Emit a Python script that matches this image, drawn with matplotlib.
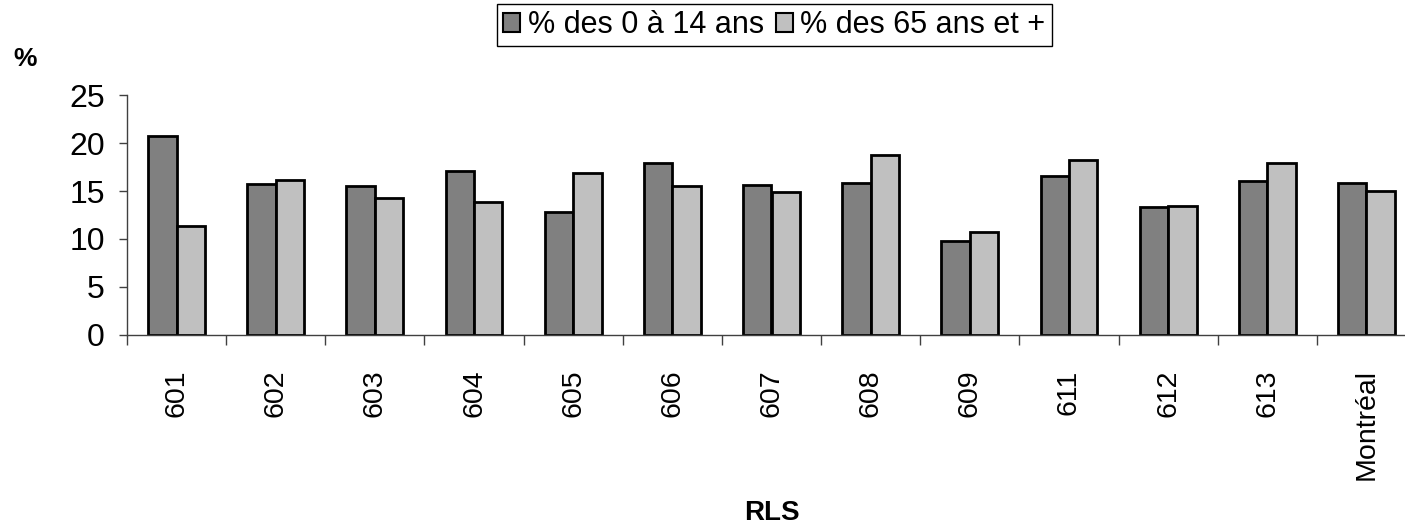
import matplotlib
matplotlib.use("Agg")
import matplotlib.pyplot as plt
import numpy as np

# Part de la population par groupe d'âge, par RLS
rls = ["601", "602", "603", "604", "605", "606", "607", "608", "609",
       "611", "612", "613", "Montréal"]
pct_0_14 = [20.8, 15.7, 15.5, 17.1, 12.8, 17.9, 15.6, 15.8, 9.8,
            16.6, 13.3, 16.0, 15.8]
pct_65_plus = [11.3, 16.2, 14.3, 13.9, 16.9, 15.5, 14.9, 18.8, 10.7,
               18.2, 13.4, 17.9, 15.0]
series_names = ["% des 0 à 14 ans", "% des 65 ans et +"]
yticks = [0, 5, 10, 15, 20, 25]

plt.rcParams["font.family"] = ["Liberation Sans", "DejaVu Sans"]

fig = plt.figure(figsize=(14.05, 5.27), dpi=100)
ax = fig.add_axes([127 / 1405, 192.3 / 527, 1289 / 1405, 239.4 / 527])

x = np.arange(len(rls))
w = 0.287
b1 = ax.bar(x - w / 2, pct_0_14, w, color="#808080", edgecolor="black",
            linewidth=2, label=series_names[0])
b2 = ax.bar(x + w / 2, pct_65_plus, w, color="#c0c0c0", edgecolor="black",
            linewidth=2, label=series_names[1])

ax.set_xlim(-0.5, len(rls) - 0.5)
ax.set_ylim(0, 25)

for s in ["top", "right"]:
    ax.spines[s].set_visible(False)
for s in ["left", "bottom"]:
    ax.spines[s].set_color("#404040")
    ax.spines[s].set_linewidth(1.0)

ax.set_yticks(yticks)
ax.tick_params(axis="y", direction="out", length=6, width=1, color="#404040",
               labelsize=23, pad=10)

# tick marks between groups, labels at the group centres
ax.set_xticks(x)
ax.set_xticklabels(rls, rotation=90)
ax.set_xticks(np.arange(len(rls)) - 0.5, minor=True)
ax.tick_params(axis="x", which="major", length=0, labelsize=20.5, pad=25)
ax.tick_params(axis="x", which="minor", direction="out", length=7, width=1,
               color="#404040")

fig.text(25 / 1405, 1 - 59 / 527, "%", fontsize=19, fontweight="bold",
         ha="center", va="center")
fig.text(772 / 1405, 1 - 513 / 527, "RLS", fontsize=20, fontweight="bold",
         ha="center", va="center")

leg = fig.legend(handles=[b1, b2], labels=series_names, loc="upper left",
                 bbox_to_anchor=(497 / 1405, 1 - 4 / 527), ncol=2,
                 fontsize=22, frameon=True, fancybox=False, framealpha=1,
                 edgecolor="black", borderpad=0.2, handlelength=0.55,
                 handleheight=0.55, handletextpad=0.25, columnspacing=0.4,
                 borderaxespad=0)
leg.get_frame().set_linewidth(1.0)
for h in leg.legend_handles:
    h.set_linewidth(1.5)

fig.savefig("out.png", dpi=100)
